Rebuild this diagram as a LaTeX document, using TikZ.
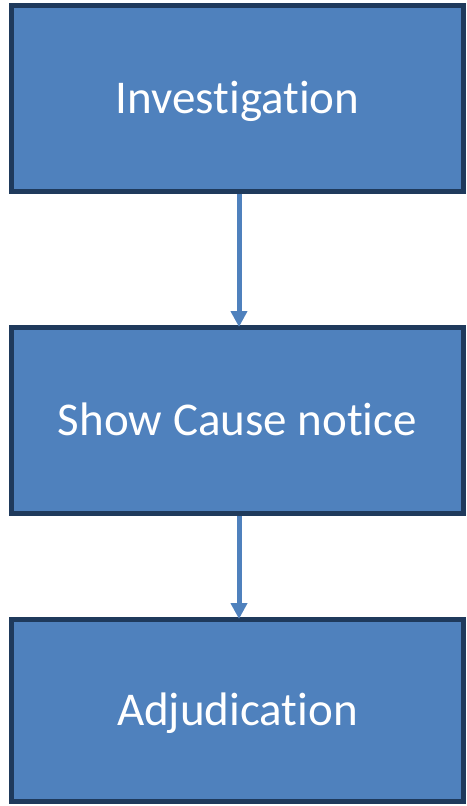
\documentclass[tikz,border=0pt]{standalone}
\usepackage{fontspec}
\setmainfont{Carlito}[Ligatures=NoCommon]
\usetikzlibrary{arrows.meta}
\definecolor{boxfill}{HTML}{4F81BD}
\definecolor{boxline}{HTML}{1F3A5C}
\tikzset{
  stepbox/.style={draw=boxline, fill=boxfill, line width=5pt, minimum width=452pt,
    minimum height=186pt, inner sep=0pt, text=white, text height=36pt, text depth=6pt,
    font=\fontsize{47}{52}\selectfont},
  flow/.style={draw=boxfill, line width=5pt, -{Triangle[width=16pt,length=16pt]}, shorten >=-2pt}
}
\begin{document}
\begin{tikzpicture}[x=1pt,y=1pt]
\useasboundingbox (0,0) rectangle (466,-806);
\node[stepbox] (inv) at (237.5,-98.5) {Investigation};
\node[stepbox] (scn) at (237.5,-420.5) {Show Cause notice};
\node[stepbox, minimum height=182pt] (adj) at (237.5,-710.5) {Adjudication};
\draw[flow] ([xshift=1.5pt]inv.south) -- ([xshift=1.5pt]scn.north);
\draw[flow] ([xshift=1.5pt]scn.south) -- ([xshift=1.5pt]adj.north);
\end{tikzpicture}
\end{document}
